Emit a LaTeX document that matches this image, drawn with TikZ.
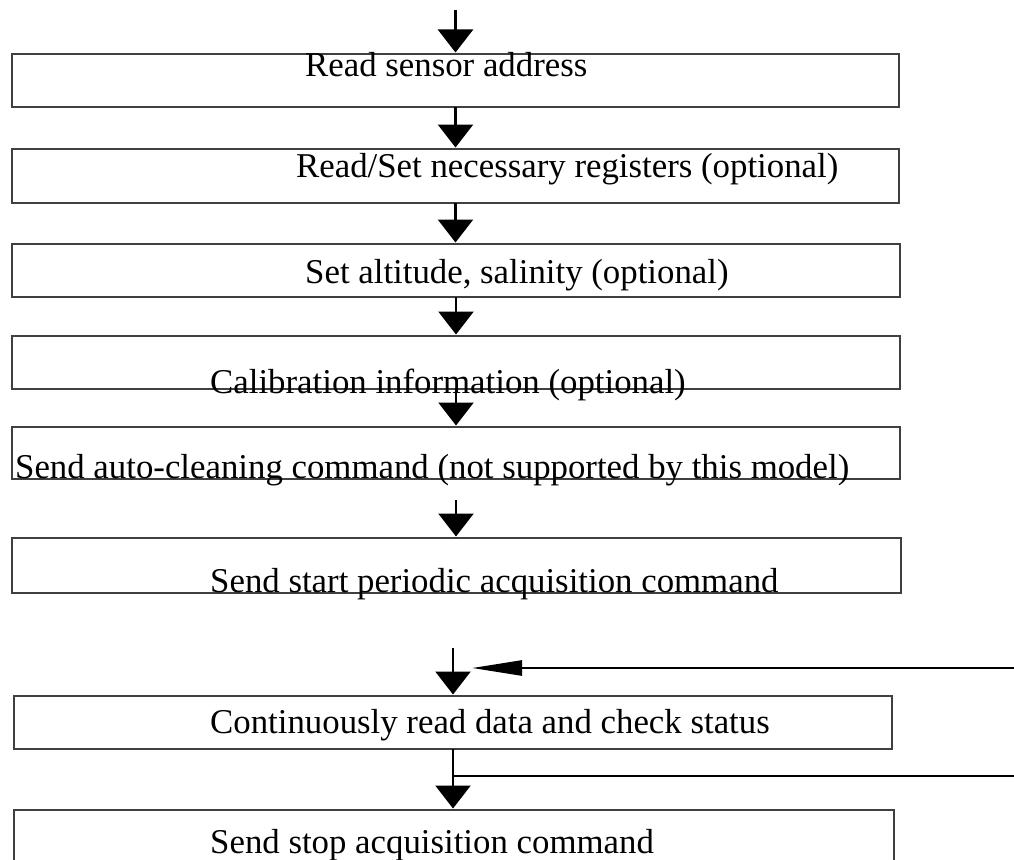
\documentclass[tikz,border=0pt]{standalone}
\usepackage{fontspec}
\setmainfont{Liberation Serif}
\usetikzlibrary{arrows.meta}
\begin{document}
\begin{tikzpicture}[x=1pt,y=-1pt,
  stepbox/.style={draw=black!75, line width=1.3pt, inner sep=0pt, outer sep=0pt},
  lbl/.style={anchor=base west, inner sep=0pt, font=\fontsize{34.8}{40}\selectfont},
  flow/.style={line width=2.6pt, shorten >=1.5pt, -{Triangle[length=23pt,width=35pt]}},
  back/.style={line width=2.6pt, -{Triangle[length=50pt,width=15pt]}},
  plainline/.style={line width=2.6pt}]
\clip (0,0) rectangle (1014,859);
\fill[white] (0,0) rectangle (1014,859);
% boxes
\node[stepbox, minimum width=887pt, minimum height=53pt] (b1) at (455.5,80.5) {};
\node[stepbox, minimum width=887pt, minimum height=54pt] (b2) at (455.5,176) {};
\node[stepbox, minimum width=888pt, minimum height=53pt] (b3) at (456,270.5) {};
\node[stepbox, minimum width=888pt, minimum height=53pt] (b4) at (456,362.5) {};
\node[stepbox, minimum width=888pt, minimum height=52pt] (b5) at (456,453) {};
\node[stepbox, minimum width=889pt, minimum height=55pt] (b6) at (456.5,565.5) {};
\node[stepbox, minimum width=878pt, minimum height=53pt] (b7) at (453,722.5) {};
\node[stepbox, minimum width=880pt, minimum height=70pt] (b8) at (454,845) {};
% texts
\node[lbl] (t1) at (305,77) {Read sensor address};
\node[lbl] (t2) at (296,177) {Read/Set necessary registers (optional)};
\node[lbl] (t3) at (305,283) {Set altitude, salinity (optional)};
\node[lbl] (t4) at (210,393) {Calibration information (optional)};
\node[lbl] (t5) at (15,478) {Send auto-cleaning command (not supported by this model)};
\node[lbl] (t6) at (210,592) {Send start periodic acquisition command};
\node[lbl] (t7) at (210,733) {Continuously read data and check status};
\node[lbl] (t8) at (210,853) {Send stop acquisition command};
% connectors
\coordinate (s0) at (455.5,10);
\draw[flow] (s0) -- (b1.north);
\draw[flow] (b1.south) -- (b2.north);
\draw[flow] (b2.south) -- (b2.south |- b3.north);
\draw[flow] (b3.south) -- (b3.south |- b4.north);
\draw[flow] (b4.south) -- (b4.south |- b5.north);
\coordinate (s6) at (456,500);
\draw[flow] (s6) -- (s6 |- b6.north);
\coordinate (s7) at (453,648);
\draw[flow] (s7) -- (s7 |- b7.north);
\coordinate (r1) at (1014,668);
\coordinate (m1) at (472,668);
\draw[back] (r1) -- (m1);
\draw[flow] (b7.south) -- (b7.south |- b8.north);
\coordinate (r2) at (1014,776);
\draw[plainline] (b7.south |- r2) -- (r2);
\end{tikzpicture}
\end{document}
